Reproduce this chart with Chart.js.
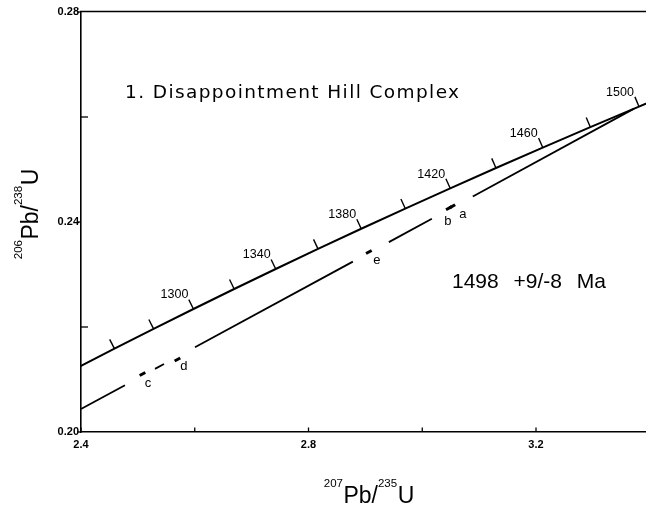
<!DOCTYPE html>
<html>
<head>
<meta charset="utf-8">
<script src="https://cdn.jsdelivr.net/npm/chart.js@4.4.1/dist/chart.umd.min.js"></script>
<style>
html,body{margin:0;padding:0;background:#fff;}
#wrap{width:646px;height:506px;position:relative;}
</style>
</head>
<body>
<div id="wrap"><canvas id="c"></canvas></div>
<script>
// Concordia curve points (age in Ma, 207Pb/235U, 206Pb/238U)
const concordiaAges = [1240, 1260, 1280, 1300, 1320, 1340, 1360, 1380, 1400, 1420, 1440, 1460, 1480, 1500, 1520];
const concordiaX = [2.3913, 2.4588, 2.5276, 2.5977, 2.6693, 2.7423, 2.8167, 2.8927, 2.9701, 3.0491, 3.1296, 3.2118, 3.2955, 3.3810, 3.4681];
const concordiaY = [0.21211, 0.21587, 0.21965, 0.22343, 0.22724, 0.23105, 0.23488, 0.23871, 0.24256, 0.24642, 0.25029, 0.25418, 0.25808, 0.26199, 0.26590];
const labelledAges = [1300, 1340, 1380, 1420, 1460, 1500];

// Discordia line pieces (null separates the pieces)
const discordiaX = [2.4000, 2.4773, null, 2.5301, 2.5459, null, 2.6004, 2.8780, null, 2.9413, 3.0169, null, 3.0889, 3.3724];
const discordiaY = [0.20438, 0.20891, null, 0.21202, 0.21295, null, 0.21615, 0.23246, null, 0.23617, 0.24061, null, 0.24486, 0.26160];

// Analyses
const analysisNames = ['a', 'b', 'c', 'd', 'e'];
const analysisX = [3.0529, 3.0468, 2.5081, 2.5696, 2.9061];
const analysisY = [0.24299, 0.24263, 0.21105, 0.21381, 0.23429];

// Axes
const xTicks = [2.4, 2.6, 2.8, 3.0, 3.2];
const xTickLabels = [2.4, 2.8, 3.2];
const yTicks = [0.20, 0.22, 0.24, 0.26, 0.28];
const yTickLabels = [0.20, 0.24, 0.28];

const titleText = '1. Disappointment Hill Complex';
const ageText = '1498 +9/-8 Ma';

// build discordia pieces
const discordiaPieces = [];
let cur = [];
discordiaX.forEach((x, i) => {
  if (x === null) { if (cur.length) discordiaPieces.push(cur); cur = []; }
  else cur.push({x: x, y: discordiaY[i]});
});
if (cur.length) discordiaPieces.push(cur);

const near = (list, v) => list.some(t => Math.abs(t - v) < 1e-6);

const datasets = [
  {
    label: 'Concordia',
    data: concordiaX.map((x, i) => ({x: x, y: concordiaY[i]})),
    showLine: true, borderColor: '#000', borderWidth: 2, pointRadius: 0, tension: 0
  }
];
discordiaPieces.forEach((p, i) => datasets.push({
  label: 'Discordia ' + i, data: p, showLine: true, borderColor: '#000',
  borderWidth: 1.8, pointRadius: 0
}));
datasets.push({
  label: 'Analyses',
  data: analysisX.map((x, i) => ({x: x, y: analysisY[i]})),
  showLine: false, pointStyle: 'line', pointRadius: 3.2, pointRotation: -28.5,
  pointBorderWidth: 3, pointBorderColor: '#000', pointBackgroundColor: '#000'
});

const labelOffsets = {a: [10.5, 7.7], b: [-1, 12.8], c: [5.5, 9], d: [6.5, 6.5], e: [8, 8]};

function richLabel(ctx, parts, x, y) {
  let cx = x;
  parts.forEach(([t, sup]) => {
    ctx.font = sup ? '11.5px "Liberation Sans"' : '23px "Liberation Sans"';
    ctx.fillText(t, cx, sup ? y - 16.5 : y);
    cx += ctx.measureText(t).width + (sup ? 0.5 : 0);
  });
  return cx - x;
}
function richWidth(ctx, parts) {
  let w = 0;
  parts.forEach(([t, sup]) => {
    ctx.font = sup ? '11.5px "Liberation Sans"' : '23px "Liberation Sans"';
    w += ctx.measureText(t).width + (sup ? 0.5 : 0);
  });
  return w;
}

const decor = {
  id: 'decor',
  afterDatasetsDraw(chart) {
    const ctx = chart.ctx, xs = chart.scales.x, ys = chart.scales.y, ca = chart.chartArea;
    ctx.save();
    ctx.strokeStyle = '#000'; ctx.fillStyle = '#000';
    // top frame
    ctx.lineWidth = 1.6;
    ctx.beginPath(); ctx.moveTo(ca.left - 1, ca.top - 0.5); ctx.lineTo(ca.right, ca.top - 0.5); ctx.stroke();
    // x ticks (inward)
    ctx.lineWidth = 1.3;
    xTicks.forEach(v => {
      const px = xs.getPixelForValue(v);
      ctx.beginPath(); ctx.moveTo(px, ca.bottom); ctx.lineTo(px, ca.bottom - 4.5); ctx.stroke();
    });
    // y ticks
    yTicks.forEach(v => {
      const py = ys.getPixelForValue(v);
      ctx.beginPath();
      if (near(yTickLabels, v)) { ctx.moveTo(ca.left, py); ctx.lineTo(ca.left - 4, py); }
      else { ctx.moveTo(ca.left, py); ctx.lineTo(ca.left + 7, py); }
      ctx.stroke();
    });
    // concordia age ticks and labels
    ctx.save();
    ctx.beginPath(); ctx.rect(ca.left, ca.top, ca.right - ca.left, ca.bottom - ca.top); ctx.clip();
    ctx.lineWidth = 1.4;
    ctx.font = '12.5px "Liberation Sans"';
    ctx.textAlign = 'center'; ctx.textBaseline = 'middle';
    for (let i = 1; i < concordiaAges.length - 1; i++) {
      const px = xs.getPixelForValue(concordiaX[i]), py = ys.getPixelForValue(concordiaY[i]);
      if (px < ca.left + 2 || px > ca.right) continue;
      const tx = xs.getPixelForValue(concordiaX[i + 1]) - xs.getPixelForValue(concordiaX[i - 1]);
      const ty = ys.getPixelForValue(concordiaY[i + 1]) - ys.getPixelForValue(concordiaY[i - 1]);
      const L = Math.hypot(tx, ty);
      const nx = ty / L, ny = -tx / L;
      ctx.beginPath(); ctx.moveTo(px, py); ctx.lineTo(px + nx * 10.5, py + ny * 10.5); ctx.stroke();
      if (labelledAges.includes(concordiaAges[i])) {
        ctx.fillText(String(concordiaAges[i]), px - 19, py - 14);
      }
    }
    ctx.restore();
    // analysis labels
    ctx.font = '13px "Liberation Sans"';
    ctx.textAlign = 'center'; ctx.textBaseline = 'middle';
    analysisNames.forEach((n, i) => {
      const px = xs.getPixelForValue(analysisX[i]), py = ys.getPixelForValue(analysisY[i]);
      const o = labelOffsets[n];
      ctx.fillText(n, px + o[0], py + o[1]);
    });
    // annotation texts
    ctx.textAlign = 'left'; ctx.textBaseline = 'alphabetic';
    ctx.font = '18.5px "DejaVu Sans"';
    try { ctx.letterSpacing = '1.4px'; } catch (e) {}
    ctx.fillText(titleText, 125, 98);
    try { ctx.letterSpacing = '0px'; ctx.wordSpacing = '9px'; } catch (e) {}
    ctx.font = '21px "Liberation Sans"';
    ctx.fillText(ageText, 452, 288);
    try { ctx.wordSpacing = '0px'; } catch (e) {}
    // axis titles
    const xParts = [['207', true], ['Pb/', false], ['235', true], ['U', false]];
    const yParts = [['206', true], ['Pb/', false], ['238', true], ['U', false]];
    const wx = richWidth(ctx, xParts);
    richLabel(ctx, xParts, 369 - wx / 2, 503);
    ctx.save();
    ctx.translate(38, 214);
    ctx.rotate(-Math.PI / 2);
    const wy = richWidth(ctx, yParts);
    richLabel(ctx, yParts, -wy / 2, 0);
    ctx.restore();
    ctx.restore();
  }
};

new Chart(document.getElementById('c'), {
  type: 'scatter',
  data: {datasets: datasets},
  options: {
    responsive: true, maintainAspectRatio: false, animation: false, events: [],
    layout: {autoPadding: false, padding: {top: 12, right: 0, left: 0, bottom: 0}},
    plugins: {legend: {display: false}, tooltip: {enabled: false}},
    scales: {
      x: {
        type: 'linear', position: 'bottom', min: 2.4, max: 3.3934,
        afterFit: s => { s.height = 74; s.paddingLeft = 0; s.paddingRight = 0; },
        grid: {display: true, drawOnChartArea: false, drawTicks: true, tickLength: 6, tickColor: 'rgba(0,0,0,0)'},
        border: {display: true, color: '#000', width: 1.6},
        ticks: {
          stepSize: 0.2, autoSkip: false, maxRotation: 0, padding: 0, color: '#000',
          font: {family: 'Liberation Sans', size: 11, weight: 'bold'},
          callback: v => near(xTickLabels, v) ? v.toFixed(1) : ''
        }
      },
      y: {
        type: 'linear', min: 0.20, max: 0.28,
        afterFit: s => { s.width = 81; s.paddingTop = 0; s.paddingBottom = 0; },
        grid: {display: false, drawTicks: false},
        border: {display: true, color: '#000', width: 1.6},
        ticks: {
          stepSize: 0.02, autoSkip: false, padding: 2, color: '#000',
          font: {family: 'Liberation Sans', size: 11, weight: 'bold'},
          callback: v => near(yTickLabels, v) ? v.toFixed(2) : ''
        }
      }
    }
  },
  plugins: [decor]
});
</script>
</body>
</html>
